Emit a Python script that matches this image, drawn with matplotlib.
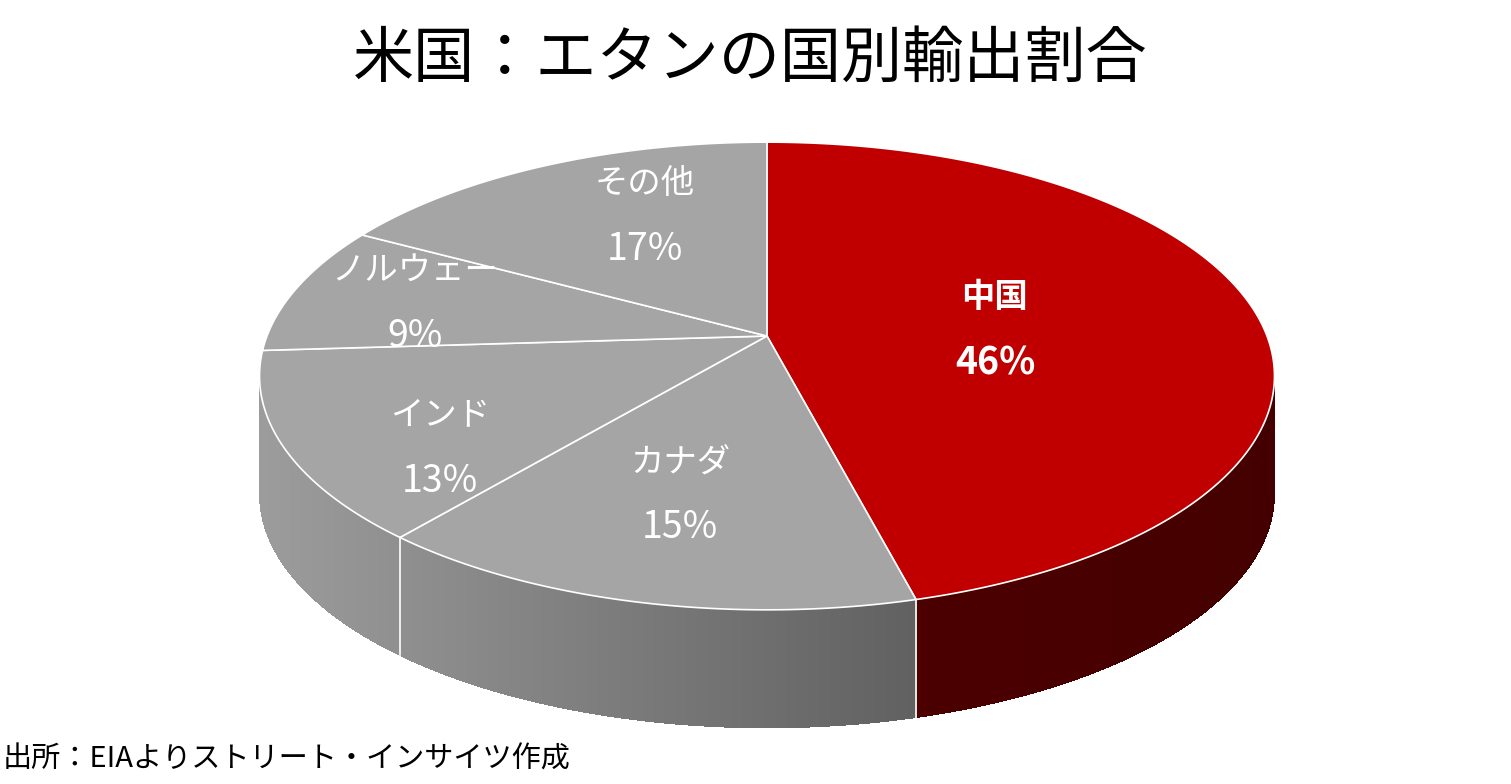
import numpy as np
import matplotlib
matplotlib.use("Agg")
import matplotlib.pyplot as plt
from matplotlib.patches import Polygon
import matplotlib.colors as mc

plt.rcParams['font.family'] = ['Noto Sans CJK JP', 'DejaVu Sans']

categories = ['中国', 'カナダ', 'インド', 'ノルウェー', 'その他']
values = [46, 15, 13, 9, 17]
title = '米国：エタンの国別輸出割合'
source = '出所：EIAよりストリート・インサイツ作成'

top_colors = ['#C00000', '#A5A5A5', '#A5A5A5', '#A5A5A5', '#A5A5A5']
label_pos = [(995, 297), (680, 462), (440, 415), (415, 270), (645, 183)]

W, H = 1511, 784
fig = plt.figure(figsize=(W/100, H/100), dpi=100)
ax = fig.add_axes([0, 0, 1, 1])
ax.set_xlim(0, W); ax.set_ylim(H, 0); ax.axis('off')

ax0, ay0 = 767, 336   # projected centre
Rx, Ry, k = 500, 227, 0.171
depth = 118

def pt(a):
    r = np.radians(a)
    c, s = np.cos(r), np.sin(r)
    d = 1 + k*s
    return ax0 + Rx*c/d, ay0 - Ry*s/d

total = sum(values)
angles = [90]
for v in values:
    angles.append(angles[-1] - 360*v/total)

for i, v in enumerate(values):
    a0, a1 = angles[i], angles[i+1]
    ts = np.linspace(a0, a1, 300)
    for j in range(len(ts)-1):
        m = (ts[j]+ts[j+1])/2
        if np.sin(np.radians(m)) > -k:
            continue
        x0, y0 = pt(ts[j]); x1, y1 = pt(ts[j+1])
        f = ((x0+x1)/2 - 262) / (1275-262)
        if i == 0:
            c = tuple(np.array(mc.to_rgb('#5a0000'))*(1-f) + np.array(mc.to_rgb('#440000'))*f)
        else:
            c = tuple(np.array(mc.to_rgb('#9c9c9c'))*(1-f) + np.array(mc.to_rgb('#404040'))*f)
        ax.add_patch(Polygon([(x0, y0), (x1, y1), (x1, y1+depth), (x0, y0+depth)],
                             closed=True, facecolor=c, edgecolor='none', lw=0,
                             antialiased=False))
    if np.sin(np.radians(a0)) < -k:
        x, y = pt(a0)
        ax.plot([x, x], [y, y+depth], color='white', lw=1.2)

for i, v in enumerate(values):
    ts = np.linspace(angles[i], angles[i+1], 300)
    pts = [(ax0, ay0)] + [pt(t) for t in ts]
    ax.add_patch(Polygon(pts, closed=True, facecolor=top_colors[i],
                         edgecolor='white', lw=1.2))

for i, (c, v) in enumerate(zip(categories, values)):
    x, y = label_pos[i]
    bold = (i == 0)
    ax.text(x, y, c, color='white', fontsize=24, ha='center', va='center',
            fontweight='bold' if bold else 'normal')
    ax.text(x, y+66, f'{v}%', color='white', fontsize=27, ha='center', va='center',
            fontweight='bold' if bold else 'normal')

ax.text(750, 60, title, fontsize=44, ha='center', va='center', color='black')
ax.text(3, 760, source, fontsize=21, ha='left', va='center', color='black')

fig.savefig('out.png', dpi=100)
